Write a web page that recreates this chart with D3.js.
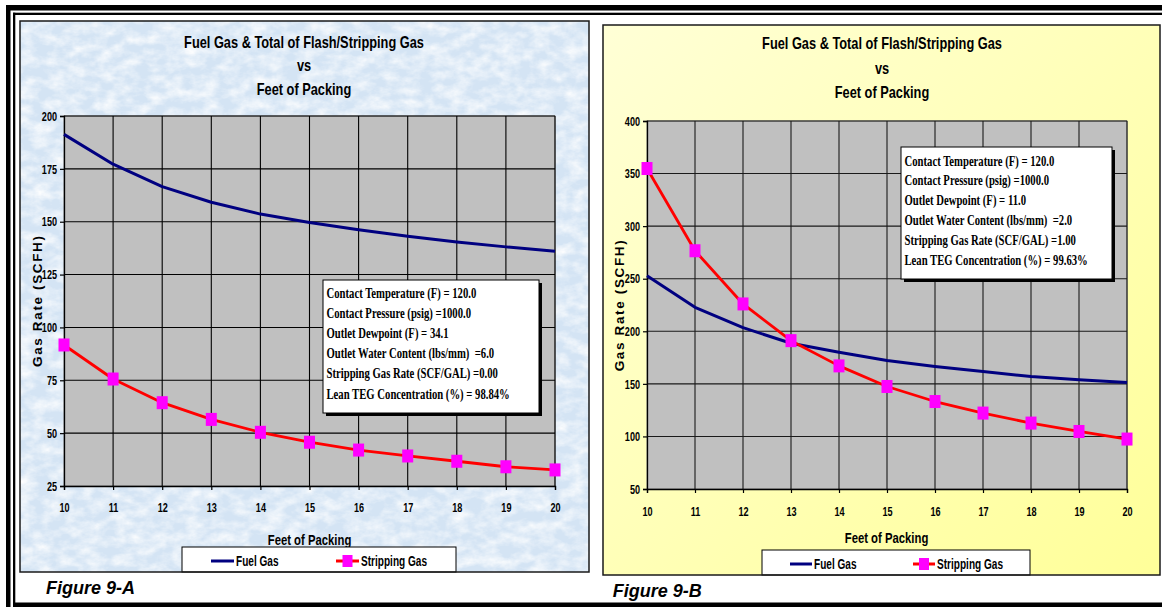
<!DOCTYPE html>
<html>
<head>
<meta charset="utf-8">
<script src="https://cdn.jsdelivr.net/npm/d3@7"></script>
<style>
  html, body { margin: 0; padding: 0; background: #fff; }
  svg { display: block; }
</style>
</head>
<body>
<svg id="chart" width="1162" height="607"></svg>
<script>
// ---- data ----
const feet = [10, 11, 12, 13, 14, 15, 16, 17, 18, 19, 20];

// Figure 9-A (no stripping gas)
const fuelA  = [191.3, 177.2, 166.6, 159.2, 153.6, 149.6, 146.2, 143.1, 140.4, 138.1, 136.0];
const stripA = [91.7, 75.6, 64.4, 56.5, 50.4, 45.7, 42.0, 39.2, 36.7, 34.1, 32.6];
const yTicksA = [25, 50, 75, 100, 125, 150, 175, 200];

// Figure 9-B (1.0 SCF/GAL stripping gas)
const fuelB  = [252.8, 222.8, 203.5, 188.6, 180.1, 172.2, 166.5, 161.7, 157.0, 153.8, 151.3];
const stripB = [354.8, 276.6, 226.0, 191.1, 167.1, 147.5, 133.2, 122.2, 112.7, 104.7, 97.5];
const yTicksB = [50, 100, 150, 200, 250, 300, 350, 400];

const titleLines = ["Fuel Gas & Total of Flash/Stripping Gas", "vs", "Feet of Packing"];
const xTitle = "Feet of Packing";
const yTitle = "Gas Rate (SCFH)";
const seriesNames = ["Fuel Gas", "Stripping Gas"];
const captions = ["Figure 9-A", "Figure 9-B"];

const infoA = [
  "Contact Temperature (F) = 120.0",
  "Contact Pressure (psig) =1000.0",
  "Outlet Dewpoint (F) = 34.1",
  "Outlet Water Content (lbs/mm)  =6.0",
  "Stripping Gas Rate (SCF/GAL) =0.00",
  "Lean TEG Concentration (%) = 98.84%"
];
const infoB = [
  "Contact Temperature (F) = 120.0",
  "Contact Pressure (psig) =1000.0",
  "Outlet Dewpoint (F) = 11.0",
  "Outlet Water Content (lbs/mm)  =2.0",
  "Stripping Gas Rate (SCF/GAL) =1.00",
  "Lean TEG Concentration (%) = 99.63%"
];

// ---- styles ----
const SANS = "'Liberation Sans', Arial, sans-serif";
const SERIF = "'Liberation Serif', 'Times New Roman', serif";
const NAVY = "#000080";
const RED = "#ff0000";
const MAGENTA = "#ff00ff";

const svg = d3.select("#chart");
const defs = svg.append("defs");

// mottled paper texture for the blue panel
const marble = defs.append("filter").attr("id", "marble")
  .attr("x", 0).attr("y", 0).attr("width", 1).attr("height", 1);
marble.append("feTurbulence").attr("type", "fractalNoise")
  .attr("baseFrequency", "0.06 0.09").attr("numOctaves", 4).attr("seed", 11).attr("result", "n");
marble.append("feColorMatrix").attr("in", "n").attr("type", "matrix")
  .attr("values", "0 0 0 0 1  0 0 0 0 1  0 0 0 0 1  1.6 0 0 0 -0.55");

// yellow wash for the second panel
const yellow = defs.append("linearGradient").attr("id", "yellowWash")
  .attr("x1", 0).attr("y1", 0).attr("x2", 1).attr("y2", 1);
yellow.append("stop").attr("offset", "0%").attr("stop-color", "#ffffd6");
yellow.append("stop").attr("offset", "100%").attr("stop-color", "#ffff99");

// text helper: horizontally condensed glyphs, as in narrow chart fonts
function label(parent, x, y, text, o) {
  const f = o.squeeze || 1;
  return parent.append("text")
    .attr("transform", `translate(${x},${y}) scale(${f},1)`)
    .attr("text-anchor", o.anchor || "start")
    .style("font-family", o.family || SANS)
    .style("font-size", o.size + "px")
    .style("font-weight", o.weight || "bold")
    .style("font-style", o.style || "normal")
    .attr("fill", o.fill || "#000")
    .text(text);
}

// ---- page frame ----
svg.append("rect").attr("x", 6).attr("y", 5).attr("width", 1156).attr("height", 5.5).attr("fill", "#000");
svg.append("rect").attr("x", 6).attr("y", 5).attr("width", 4.5).attr("height", 602).attr("fill", "#000");
svg.append("rect").attr("x", 13).attr("y", 12.7).attr("width", 1149).attr("height", 2.3).attr("fill", "#000");
svg.append("rect").attr("x", 13).attr("y", 12.7).attr("width", 2.3).attr("height", 592).attr("fill", "#000");
svg.append("rect").attr("x", 13).attr("y", 602.5).attr("width", 1149).attr("height", 4.5).attr("fill", "#000");

const panels = [
  {
    frame: [20, 21, 569, 551], bg: "blue",
    plot: [64, 555, 116, 486], yDomain: [25, 200], yTicks: yTicksA,
    fuel: fuelA, strip: stripA, info: infoA,
    infoBox: [323, 280, 216, 133], infoFirst: 298, infoStep: 20.1,
    titleX: 304, titleY: [47.5, 70.5, 94.5],
    xTitlePos: [309.5, 545], yTitlePos: [36.5, 301.5],
    legend: [182, 547, 274, 25], legItems: [[211, 236], [336, 361]], legY: 561,
    caption: captions[0], captionPos: [46, 593.5], xPad: 14,
    grid: "#000"
  },
  {
    frame: [603, 25, 557, 550], bg: "yellow",
    plot: [647, 1127, 121, 489], yDomain: [50, 400], yTicks: yTicksB,
    fuel: fuelB, strip: stripB, info: infoB,
    infoBox: [901, 147, 211, 132], infoFirst: 165.5, infoStep: 19.85,
    titleX: 882, titleY: [49, 74, 97.5],
    xTitlePos: [886.5, 543], yTitlePos: [619, 305.8],
    legend: [762, 550, 268, 25], legItems: [[790, 814], [913, 937]], legY: 564,
    caption: captions[1], captionPos: [612.7, 597], xPad: 15,
    grid: "#1a1a1a"
  }
];

panels.forEach(p => {
  const g = svg.append("g");
  const [fx, fy, fw, fh] = p.frame;

  // panel background
  if (p.bg === "blue") {
    g.append("rect").attr("x", fx).attr("y", fy).attr("width", fw).attr("height", fh).attr("fill", "#d4e4f4");
    g.append("rect").attr("x", fx).attr("y", fy).attr("width", fw).attr("height", fh)
      .attr("fill", "#fff").attr("filter", "url(#marble)");
  } else {
    g.append("rect").attr("x", fx).attr("y", fy).attr("width", fw).attr("height", fh).attr("fill", "url(#yellowWash)");
  }

  const [x0, x1, y0, y1] = p.plot;
  const x = d3.scaleLinear().domain([feet[0], feet[feet.length - 1]]).range([x0, x1]);
  const y = d3.scaleLinear().domain(p.yDomain).range([y1, y0]);

  // plot area
  g.append("rect").attr("x", x0).attr("y", y0).attr("width", x1 - x0).attr("height", y1 - y0)
    .attr("fill", "#c0c0c0").attr("stroke", "#808080").attr("stroke-width", 1);

  // gridlines
  g.append("g").selectAll("line").data(p.yTicks.slice(1)).join("line")
    .attr("x1", x0).attr("x2", x1).attr("y1", d => y(d)).attr("y2", d => y(d))
    .attr("stroke", p.grid).attr("stroke-width", 1.1);
  g.append("g").selectAll("line").data(feet.slice(1)).join("line")
    .attr("x1", d => x(d)).attr("x2", d => x(d)).attr("y1", y0).attr("y2", y1)
    .attr("stroke", p.grid).attr("stroke-width", 1.1);

  // axes
  const tickF = 0.7;
  const yAxis = g.append("g").attr("transform", `translate(${x0},0)`)
    .call(d3.axisLeft(y).tickValues(p.yTicks).tickSize(4).tickPadding(3).tickFormat(d3.format("d")));
  const xAxis = g.append("g").attr("transform", `translate(0,${y1})`)
    .call(d3.axisBottom(x).tickValues(feet).tickSize(4).tickPadding(p.xPad - 1).tickFormat(d3.format("d")));
  [yAxis, xAxis].forEach(ax => {
    ax.select(".domain").attr("stroke", "#000").attr("stroke-width", 1.3);
    ax.selectAll(".tick line").attr("stroke", "#000").attr("stroke-width", 1.2);
    ax.selectAll("text")
      .style("font-family", SANS).style("font-size", "13px").style("font-weight", "bold").attr("fill", "#000");
  });
  yAxis.selectAll("text").each(function () {
    const t = d3.select(this);
    t.attr("x", +t.attr("x") / tickF).attr("transform", `scale(${tickF},1)`);
  });
  xAxis.selectAll("text").attr("transform", `scale(${tickF},1)`);

  // series lines
  const line = d3.line().x((d, i) => x(feet[i])).y(d => y(d));
  g.append("path").datum(p.fuel).attr("d", line)
    .attr("fill", "none").attr("stroke", NAVY).attr("stroke-width", 3).attr("stroke-linejoin", "round");
  g.append("path").datum(p.strip).attr("d", line)
    .attr("fill", "none").attr("stroke", RED).attr("stroke-width", 2.8).attr("stroke-linejoin", "round");
  g.append("g").selectAll("rect").data(p.strip).join("rect")
    .attr("x", (d, i) => x(feet[i]) - 5.5).attr("y", d => y(d) - 6.5)
    .attr("width", 11).attr("height", 13).attr("fill", MAGENTA);

  // operating conditions box
  const [bx, by, bw, bh] = p.infoBox;
  g.append("rect").attr("x", bx + 3).attr("y", by + 3).attr("width", bw).attr("height", bh).attr("fill", "#000");
  g.append("rect").attr("x", bx).attr("y", by).attr("width", bw).attr("height", bh)
    .attr("fill", "#fff").attr("stroke", "#000").attr("stroke-width", 1);
  p.info.forEach((s, i) => {
    label(g, bx + 3.5, p.infoFirst + i * p.infoStep, s, { family: SERIF, size: 15.5, squeeze: 0.69 })
      .style("white-space", "pre");
  });

  // titles
  titleLines.forEach((s, i) => label(g, p.titleX, p.titleY[i], s, { anchor: "middle", size: 16, squeeze: 0.8 }));
  label(g, p.xTitlePos[0], p.xTitlePos[1], xTitle, { anchor: "middle", size: 14.5, squeeze: 0.78 });
  g.append("text")
    .attr("transform", `translate(${p.yTitlePos[0] + 5},${p.yTitlePos[1]}) rotate(-90)`)
    .attr("x", -65.5)
    .attr("textLength", 131).attr("lengthAdjust", "spacing")
    .style("font-family", SANS).style("font-size", "13.5px").style("font-weight", "bold")
    .text(yTitle);

  // legend
  const [lx, ly, lw, lh] = p.legend;
  g.append("rect").attr("x", lx).attr("y", ly).attr("width", lw).attr("height", lh)
    .attr("fill", "#fff").attr("stroke", "#000").attr("stroke-width", 1);
  const [fuelItem, stripItem] = p.legItems;
  g.append("line").attr("x1", fuelItem[0]).attr("x2", fuelItem[1] - 2).attr("y1", p.legY).attr("y2", p.legY)
    .attr("stroke", NAVY).attr("stroke-width", 3);
  label(g, fuelItem[1], p.legY + 5, seriesNames[0], { size: 14, squeeze: 0.72 });
  g.append("line").attr("x1", stripItem[0]).attr("x2", stripItem[1] - 2).attr("y1", p.legY).attr("y2", p.legY)
    .attr("stroke", RED).attr("stroke-width", 3);
  g.append("rect").attr("x", (stripItem[0] + stripItem[1]) / 2 - 6).attr("y", p.legY - 6)
    .attr("width", 10).attr("height", 12).attr("fill", MAGENTA);
  label(g, stripItem[1], p.legY + 5, seriesNames[1], { size: 14, squeeze: 0.72 });

  // panel border
  g.append("rect").attr("x", fx).attr("y", fy).attr("width", fw).attr("height", fh)
    .attr("fill", "none").attr("stroke", "#1a1a1a").attr("stroke-width", 1.5);

  // figure caption
  label(svg, p.captionPos[0], p.captionPos[1], p.caption, { size: 18, style: "italic" });
});
</script>
</body>
</html>
